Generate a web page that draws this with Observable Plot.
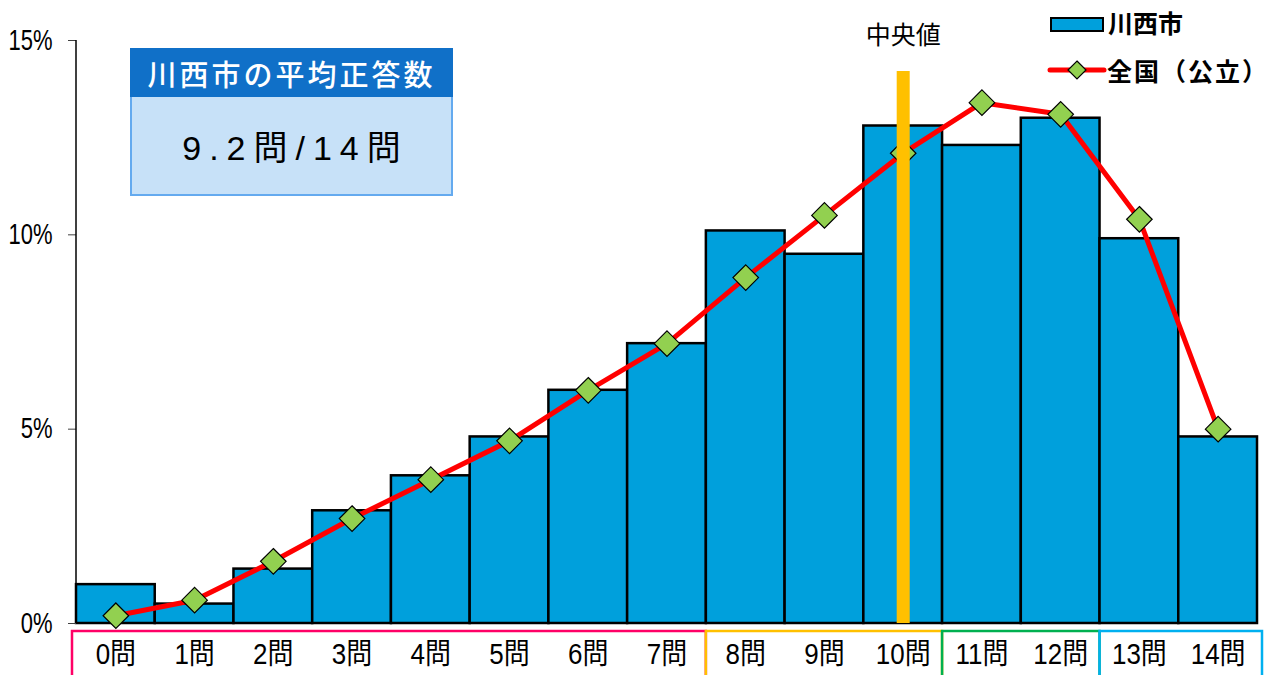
<!DOCTYPE html>
<html>
<head>
<meta charset="utf-8">
<script src="https://cdn.jsdelivr.net/npm/d3@7"></script>
<script src="https://cdn.jsdelivr.net/npm/@observablehq/plot@0.6"></script>
<style>
  html, body { margin: 0; padding: 0; background: #fff; }
  #wrap { position: relative; width: 1270px; height: 675px; overflow: hidden; font-family: "Liberation Sans", "Noto Sans CJK JP", sans-serif; }
  #wrap svg.plot { position: absolute; left: 0; top: 0; }
  .ann-head { position: absolute; left: 130px; top: 48px; width: 323px; height: 50px; background: #1070C8;
    color: #fff; font-family: "Noto Sans CJK JP", sans-serif; font-weight: 500; font-size: 29px; letter-spacing: 3px;
    display: flex; align-items: center; justify-content: center; box-sizing: border-box; }
  .ann-body { position: absolute; left: 130px; top: 97px; width: 323px; height: 99px; background: #C7E1F8;
    border: 2px solid #64AAEF; border-top: none; box-sizing: border-box; color: #000;
    font-family: "Liberation Sans", "Noto Sans CJK JP", sans-serif; font-size: 34px; letter-spacing: 8px;
    display: flex; align-items: center; justify-content: center; padding-left: 8px; }
  .leg { position: absolute; font-family: "Noto Sans CJK JP", sans-serif; font-weight: bold; font-size: 25px; color: #000; line-height: 1; white-space: nowrap; }
</style>
</head>
<body>
<div id="wrap"></div>
<script>
// ---- data ----
const categories = ["0問","1問","2問","3問","4問","5問","6問","7問","8問","9問","10問","11問","12問","13問","14問"];
const kawanishi = [1.0, 0.5, 1.4, 2.9, 3.8, 4.8, 6.0, 7.2, 10.1, 9.5, 12.8, 12.3, 13.0, 9.9, 4.8];
const national  = [0.2, 0.6, 1.6, 2.7, 3.7, 4.7, 6.0, 7.2, 8.9, 10.5, 12.1, 13.4, 13.1, 10.4, 5.0];
const yTicks = [0, 5, 10, 15];
const medianCategory = "10問";
const medianTop = 14.2;
const medianLabel = "中央値";
const seriesNames = ["川西市", "全国（公立）"];
const groupStarts = ["0問", "8問", "11問", "13問"];
const groupEnds   = ["7問", "10問", "12問", "14問"];
const groupColors = ["#FF0066", "#FFC000", "#00B050", "#00B0F0"];
const annTitle = "川西市の平均正答数";
const annValue = "9.2問/14問";

const data = categories.map((c, i) => ({cat: c, k: kawanishi[i], n: national[i]}));

const plot = Plot.plot({
  width: 1270, height: 675,
  marginLeft: 76, marginRight: 13, marginTop: 40, marginBottom: 52,
  x: {type: "band", domain: categories, padding: 0, round: false},
  y: {domain: [0, 15]},
  style: {fontFamily: "'Liberation Sans', 'Noto Sans CJK JP', sans-serif", color: "#000", background: "transparent", overflow: "visible"},
  marks: [
    Plot.barY(data, {x: "cat", y: "k", fill: "#00A0DC", stroke: "#000", strokeWidth: 2.5}),
    Plot.line(data, {x: "cat", y: "n", stroke: "#FF0000", strokeWidth: 5}),
    Plot.dot(data, {x: "cat", y: "n", symbol: "diamond2", r: 11.5, fill: "#92D050", stroke: "#000", strokeWidth: 1.2}),
    Plot.ruleX([medianCategory], {x: d => d, y1: 0, y2: medianTop, stroke: "#FFC000", strokeWidth: 13}),
    Plot.text([medianLabel], {x: () => medianCategory, y: () => 15, text: d => d, lineAnchor: "bottom", dy: 3, fontSize: 25, fontFamily: "'Noto Sans CJK JP', sans-serif"}),
    Plot.axisY({ticks: yTicks, tickFormat: d => d + "%", tickSize: 8, tickPadding: 16, fontSize: 22, stroke: "#404040", className: "ytl"}),
    Plot.axisX({tickSize: 0, tickPadding: 20, fontSize: 26, label: null, className: "xtl"})
  ]
});
plot.classList.add("plot");
document.getElementById("wrap").appendChild(plot);

const svg = d3.select(plot);
// stretch tick label glyphs vertically like the reference's font
svg.selectAll(".ytl text").attr("transform", function() { return (this.getAttribute("transform") || "") + " scale(1,1.3)"; });
svg.selectAll(".xtl text").attr("transform", function() { return (this.getAttribute("transform") || "") + " scale(1,1.12)"; });

// y axis line and group boxes, positioned through Plot's scales
const xs = plot.scale("x"), ys = plot.scale("y");
const x0 = xs.apply(categories[0]);
svg.append("line").attr("x1", x0).attr("x2", x0)
  .attr("y1", ys.apply(15)).attr("y2", ys.apply(0))
  .attr("stroke", "#000").attr("stroke-width", 1.5);
const yBase = ys.apply(0);
groupStarts.forEach((s, i) => {
  let a = xs.apply(s), b = xs.apply(groupEnds[i]) + xs.bandwidth;
  if (i === 0) a -= 4;
  if (i === groupStarts.length - 1) b += 5;
  svg.append("rect").attr("x", a).attr("y", yBase + 8).attr("width", b - a).attr("height", 80)
    .attr("fill", "none").attr("stroke", groupColors[i]).attr("stroke-width", 2.5);
});

// annotation box
const wrap = document.getElementById("wrap");
const head = document.createElement("div"); head.className = "ann-head"; head.textContent = annTitle; wrap.appendChild(head);
const body = document.createElement("div"); body.className = "ann-body"; body.textContent = annValue; wrap.appendChild(body);

// legend
const l1 = document.createElement("div"); l1.className = "leg"; l1.style.left = "1108px"; l1.style.top = "10px"; l1.textContent = seriesNames[0]; wrap.appendChild(l1);
const l2 = document.createElement("div"); l2.className = "leg"; l2.style.left = "1107px"; l2.style.top = "58px"; l2.style.letterSpacing = "2px"; l2.textContent = seriesNames[1]; wrap.appendChild(l2);
const ls = d3.select(wrap).append("svg").style("position", "absolute").style("left", "1040px").style("top", "0px")
  .attr("width", 70).attr("height", 90);
ls.append("rect").attr("x", 11).attr("y", 18).attr("width", 52).attr("height", 13).attr("fill", "#00A0DC").attr("stroke", "#000").attr("stroke-width", 2);
ls.append("line").attr("x1", 10).attr("x2", 64).attr("y1", 70).attr("y2", 70).attr("stroke", "#FF0000").attr("stroke-width", 5).attr("stroke-linecap", "round");
ls.append("path").attr("d", "M37,61 L46,70 L37,79 L28,70 Z").attr("fill", "#92D050").attr("stroke", "#000").attr("stroke-width", 1.2);
</script>
</body>
</html>
